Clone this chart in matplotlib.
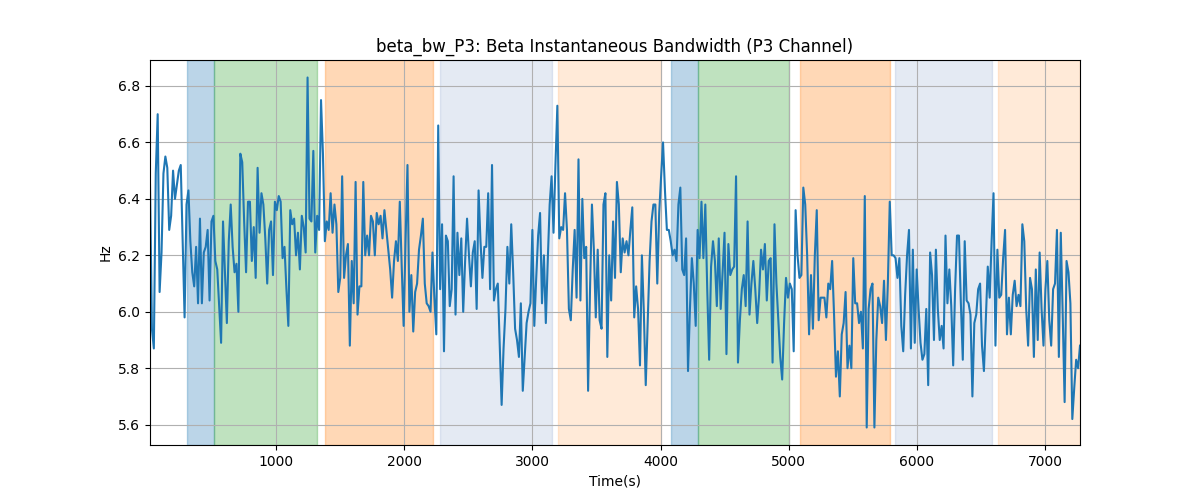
import numpy as np
import matplotlib
matplotlib.use("Agg")
import matplotlib.pyplot as plt

# beta bandwidth values, left to right
bw_part1 = [6.45, 5.94, 5.87, 6.49, 6.70, 6.07, 6.21, 6.49, 6.55, 6.51, 6.29, 6.34, 6.50, 6.40, 6.45, 6.50,
            6.52, 6.25, 5.98, 6.38, 6.43, 6.25, 6.14, 6.09, 6.23, 6.03, 6.33, 6.03, 6.21, 6.23, 6.29, 6.04,
            6.32, 6.34, 6.18, 6.15, 6.02, 5.89, 6.32, 6.14, 5.96, 6.25, 6.38, 6.23, 6.14, 6.17, 6.00, 6.56,
            6.53, 6.32, 6.14, 6.39, 6.39, 6.18, 6.30, 6.12, 6.51, 6.28, 6.42, 6.38, 6.26, 6.10]
bw_part2 = [6.29, 6.32, 6.13, 6.39, 6.36, 6.41, 6.39, 6.19, 6.23, 6.08, 5.95, 6.36, 6.31, 6.33, 6.20, 6.28,
            6.15, 6.34, 6.30, 6.21, 6.83, 6.33, 6.32, 6.57, 6.21, 6.34, 6.29, 6.75, 6.56, 6.25, 6.32, 6.29,
            6.42, 6.28, 6.38, 6.31, 6.07, 6.12, 6.48, 6.12, 6.20, 6.24, 5.88, 6.18, 6.03, 6.46, 5.99, 6.09,
            6.09, 6.46, 6.20, 6.27, 6.20, 6.34, 6.32, 6.20, 6.35, 6.31, 6.34, 6.26, 6.36, 6.29, 6.22]
bw_part3 = [6.15, 6.05, 6.18, 6.25, 6.18, 6.39, 6.16, 5.95, 6.25, 6.52, 6.00, 6.13, 5.93, 6.07, 6.10, 6.22,
            6.27, 6.33, 6.10, 6.03, 6.02, 6.00, 6.21, 6.05, 5.92, 6.66, 6.08, 6.31, 5.86, 6.27, 6.25, 6.02,
            6.08, 6.48, 5.99, 6.28, 6.13, 6.26, 6.00, 6.18, 6.33, 6.20, 6.09, 6.21, 6.25, 6.01, 6.43, 6.25,
            6.12, 6.23, 6.23, 6.42, 6.08, 6.52, 6.04, 6.08, 6.10, 5.89, 5.67, 5.87, 6.01, 6.23]
bw_part4 = [6.10, 6.31, 6.14, 5.94, 5.90, 5.84, 6.03, 5.72, 5.84, 5.96, 6.00, 6.03, 6.29, 5.95, 6.12, 6.27,
            6.35, 6.03, 6.20, 5.96, 6.18, 6.38, 6.48, 6.28, 6.52, 6.73, 6.26, 6.30, 6.29, 6.42, 6.29, 6.01,
            5.97, 6.15, 6.29, 6.05, 6.54, 6.04, 6.40, 6.19, 6.23, 5.72, 6.08, 6.38, 6.22, 5.98, 6.22, 5.97,
            5.94, 6.38, 6.42, 5.84, 6.20, 6.04, 6.32, 6.12, 6.46, 6.38, 6.14, 6.26, 6.21, 6.25, 6.20]
bw_part5 = [6.29, 6.37, 5.98, 6.09, 6.01, 5.81, 6.20, 6.00, 5.74, 5.96, 6.18, 6.32, 6.38, 6.38, 6.10, 6.35,
            6.48, 6.60, 6.43, 6.29, 6.29, 6.25, 6.20, 6.22, 6.18, 6.38, 6.44, 6.15, 6.13, 6.26, 5.79, 6.01,
            6.19, 6.10, 5.95, 6.29, 6.19, 6.39, 6.19, 6.38, 6.08, 5.83, 6.16, 6.25, 6.18, 6.02, 6.26, 6.01,
            6.14, 6.28, 5.85, 6.24, 6.13, 6.15, 6.16, 6.48, 5.82, 5.97, 6.08, 6.13, 6.02, 6.32]
bw_part6 = [5.99, 6.10, 6.18, 6.08, 5.96, 6.06, 6.22, 6.15, 6.24, 6.04, 6.18, 6.19, 5.82, 6.31, 6.10, 5.97,
            5.84, 5.76, 5.96, 6.12, 6.05, 6.10, 6.08, 5.86, 6.36, 6.20, 6.12, 6.13, 6.44, 6.38, 6.20, 5.92,
            6.13, 5.94, 6.20, 6.36, 5.97, 6.05, 6.05, 6.05, 5.98, 6.10, 6.08, 6.18, 5.99, 5.77, 5.86, 5.70,
            5.92, 5.96, 6.07, 5.80, 5.88, 5.80, 6.19, 6.03, 6.03, 5.96, 6.00, 5.87, 6.41, 5.59]
bw_part7 = [6.01, 6.08, 6.10, 5.59, 5.90, 6.05, 6.02, 5.96, 6.11, 5.90, 6.10, 6.39, 6.20, 6.20, 6.19, 6.12,
            6.19, 5.95, 5.86, 6.06, 6.20, 6.29, 5.87, 6.22, 5.89, 6.15, 6.01, 5.89, 5.83, 5.85, 6.01, 5.74,
            6.21, 6.13, 5.90, 6.22, 6.01, 5.90, 5.95, 5.87, 6.27, 6.03, 6.15, 6.02, 5.81, 6.08, 6.27, 6.27,
            6.03, 5.83, 6.25, 6.04, 6.03, 5.99, 5.70, 5.96, 5.99, 6.08, 6.10, 5.88, 5.79, 5.97, 6.16]
bw_part8 = [6.05, 6.25, 6.42, 5.88, 6.22, 6.05, 6.06, 6.19, 6.29, 5.92, 6.05, 5.92, 6.06, 6.11, 6.02, 6.06,
            6.02, 6.31, 6.25, 6.01, 5.88, 6.12, 6.08, 5.84, 6.15, 5.90, 6.21, 6.01, 5.88, 6.08, 6.18, 5.97,
            5.88, 6.08, 6.10, 6.29, 5.84, 6.28, 5.99, 5.68, 6.18, 6.14, 6.03, 5.62, 5.73, 5.83, 5.80, 5.88]

bw = np.array(bw_part1 + bw_part2 + bw_part3 + bw_part4 + bw_part5 + bw_part6 + bw_part7 + bw_part8)
t_start, t_end = 17, 7273
t = np.linspace(t_start, t_end, len(bw))

# shaded phases: (start, end, colour, alpha)
span_starts = [306, 516, 1383, 2280, 3203, 4082, 4295, 5088, 5830, 6631]
span_ends = [516, 1318, 2223, 3151, 4002, 4295, 5005, 5791, 6584, 7273]
span_colors = ["tab:blue", "tab:green", "tab:orange", "#4c72b0", "tab:orange",
               "tab:blue", "tab:green", "tab:orange", "#4c72b0", "tab:orange"]
span_alphas = [0.3, 0.3, 0.3, 0.15, 0.16, 0.3, 0.3, 0.3, 0.15, 0.16]

fig, ax = plt.subplots(figsize=(12, 5), dpi=100)
for s, e, c, a in zip(span_starts, span_ends, span_colors, span_alphas):
    ax.axvspan(s, e, color=c, alpha=a)
ax.plot(t, bw, color="tab:blue", linewidth=1.5)
ax.set_xlim(t_start, t_end)
ax.set_title("beta_bw_P3: Beta Instantaneous Bandwidth (P3 Channel)")
ax.set_xlabel("Time(s)")
ax.set_ylabel("Hz")
ax.grid(True)
plt.savefig("out.png")
